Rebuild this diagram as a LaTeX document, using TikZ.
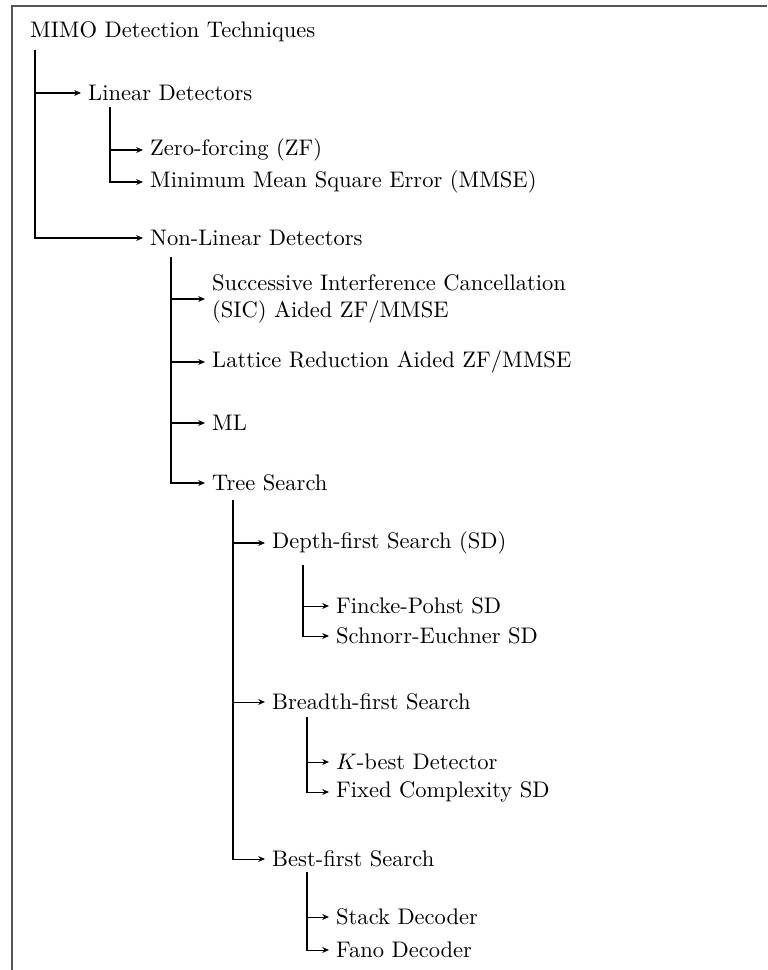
\documentclass[tikz,border=0pt]{standalone}
\usepackage{amsmath}
\usepackage{tikz}
\usetikzlibrary{arrows.meta, positioning, calc}
\definecolor{framegray}{RGB}{85,85,85}

\begin{document}
\begin{tikzpicture}[
    x=0.444pt, y=-0.444pt,
    >={Stealth[length=3pt, width=2.6pt]},
    item/.style={anchor=west, inner sep=3pt, align=left},
    link/.style={->, line width=0.45pt},
    framing/.style={line width=0.9pt, framegray},
]
    \useasboundingbox (0,0) rectangle (767,970);
    \draw[framing] (767,6) -- (12,6) -- (12,970);

    \node[item] (mimo) at (23,32) {MIMO Detection Techniques};
    \node[item] (lin) at (81,93) {Linear Detectors};
    \node[item] (zf) at (143,150) {Zero-forcing (ZF)};
    \node[item] (mmse) at (143,182) {Minimum Mean Square Error (MMSE)};
    \node[item] (nonlin) at (143,238) {Non-Linear Detectors};
    \node[item] (sic) at (205,299) {Successive Interference Cancellation\\(SIC) Aided ZF/MMSE};
    \node[item] (lr) at (205,362) {Lattice Reduction Aided ZF/MMSE};
    \node[item] (ml) at (205,423) {ML};
    \node[item] (tree) at (205,483) {Tree Search};
    \node[item] (dfs) at (265,543) {Depth-first Search (SD)};
    \node[item] (fp) at (329,606) {Fincke-Pohst SD};
    \node[item] (se) at (329,636) {Schnorr-Euchner SD};
    \node[item] (bfs) at (265,702) {Breadth-first Search};
    \node[item] (kbest) at (329,762) {$K$-best Detector};
    \node[item] (fcsd) at (329,792) {Fixed Complexity SD};
    \node[item] (best) at (265,859) {Best-first Search};
    \node[item] (stack) at (329,917) {Stack Decoder};
    \node[item] (fano) at (329,950) {Fano Decoder};

    \coordinate (mimo-t) at (35,50);
    \coordinate (lin-t) at (110,107);
    \coordinate (nonlin-t) at (171,257);
    \coordinate (tree-t) at (233,500);
    \coordinate (dfs-t) at (303,565);
    \coordinate (bfs-t) at (307,717);
    \coordinate (best-t) at (307,872);

    \draw[link] (mimo-t) |- (lin.west);
    \draw[link] (mimo-t) |- (nonlin.west);
    \draw[link] (lin-t) |- (zf.west);
    \draw[link] (lin-t) |- (mmse.west);
    \draw[link] (nonlin-t) |- (sic.west);
    \draw[link] (nonlin-t) |- (lr.west);
    \draw[link] (nonlin-t) |- (ml.west);
    \draw[link] (nonlin-t) |- (tree.west);
    \draw[link] (tree-t) |- (dfs.west);
    \draw[link] (tree-t) |- (bfs.west);
    \draw[link] (tree-t) |- (best.west);
    \draw[link] (dfs-t) |- (fp.west);
    \draw[link] (dfs-t) |- (se.west);
    \draw[link] (bfs-t) |- (kbest.west);
    \draw[link] (bfs-t) |- (fcsd.west);
    \draw[link] (best-t) |- (stack.west);
    \draw[link] (best-t) |- (fano.west);
\end{tikzpicture}
\end{document}
